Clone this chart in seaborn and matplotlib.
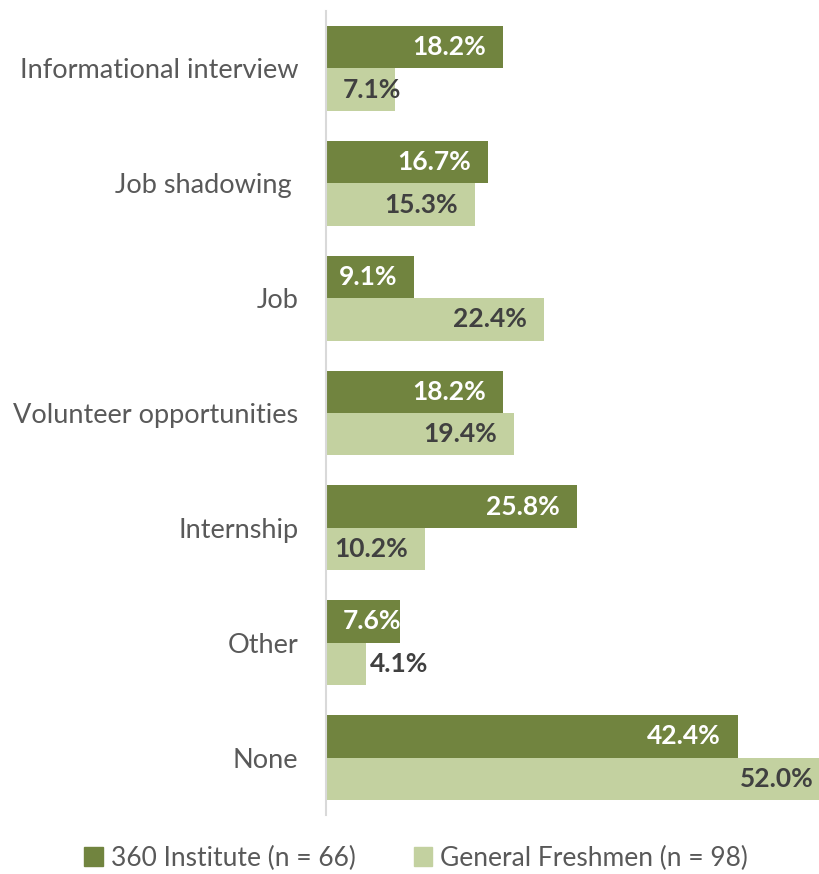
import matplotlib
matplotlib.use("Agg")
import matplotlib.pyplot as plt
import seaborn as sns
import pandas as pd

categories = ["Informational interview", "Job shadowing ", "Job",
              "Volunteer opportunities", "Internship", "Other", "None"]
institute = [18.2, 16.7, 9.1, 18.2, 25.8, 7.6, 42.4]
freshmen = [7.1, 15.3, 22.4, 19.4, 10.2, 4.1, 52.0]
series_names = ["360 Institute (n = 66)", "General Freshmen (n = 98)"]

dark_green = "#71843F"
light_green = "#C3D1A0"
text_gray = "#595959"
label_dark = "#404040"

df = pd.DataFrame({
    "category": categories * 2,
    "value": institute + freshmen,
    "group": [series_names[0]] * len(categories) + [series_names[1]] * len(categories),
})

sns.set_theme(style="white")
plt.rcParams["font.family"] = ["Lato", "DejaVu Sans"]

fig = plt.figure(figsize=(8.2, 8.74), dpi=100)
W, H = 820, 874
ax = fig.add_axes([326 / W, (H - 815) / H, 505 / W, 804 / H])

sns.barplot(data=df, x="value", y="category", hue="group", order=categories,
            hue_order=series_names, palette=[dark_green, light_green],
            width=0.74, linewidth=0, saturation=1, ax=ax, legend=False)

ax.set_xlim(0, 52)
ax.set_ylim(len(categories) - 0.5, -0.5)
ax.set_xlabel("")
ax.set_ylabel("")
ax.set_xticks([])
for side in ["top", "right", "bottom"]:
    ax.spines[side].set_visible(False)
ax.spines["left"].set_color("#D9D9D9")
ax.spines["left"].set_linewidth(1.5)
ax.tick_params(axis="y", length=0, pad=20, labelsize=19.5, labelcolor=text_gray)

# value labels: inside the bar end, or outside when the bar is too short
pad = 12.2
lab_size = 19
for container, color in zip(ax.containers, ["white", label_dark]):
    for bar in container:
        v = bar.get_width()
        yc = bar.get_y() + bar.get_height() / 2
        txt = f"{v:.1f}%"
        if v >= 8:
            ax.annotate(txt, xy=(v, yc), xytext=(-pad, 0), textcoords="offset points",
                        ha="right", va="center", color=color, fontsize=lab_size, fontweight="bold")
        elif v >= 5:
            ax.annotate(txt, xy=(0, yc), xytext=(pad, 0), textcoords="offset points",
                        ha="left", va="center", color=color, fontsize=lab_size, fontweight="bold")
        else:
            ax.annotate(txt, xy=(v, yc), xytext=(3, 0), textcoords="offset points",
                        ha="left", va="center", color=label_dark, fontsize=lab_size, fontweight="bold")

handles = [plt.Rectangle((0, 0), 1, 1, color=c) for c in (dark_green, light_green)]
fig.legend(handles, series_names, loc="center", bbox_to_anchor=(416 / W, 1 - 858 / H),
           ncol=2, frameon=False, fontsize=19, labelcolor=text_gray,
           handlelength=0.7, handleheight=0.7, handletextpad=0.3, columnspacing=2.2)

fig.savefig("out.png", dpi=100)
